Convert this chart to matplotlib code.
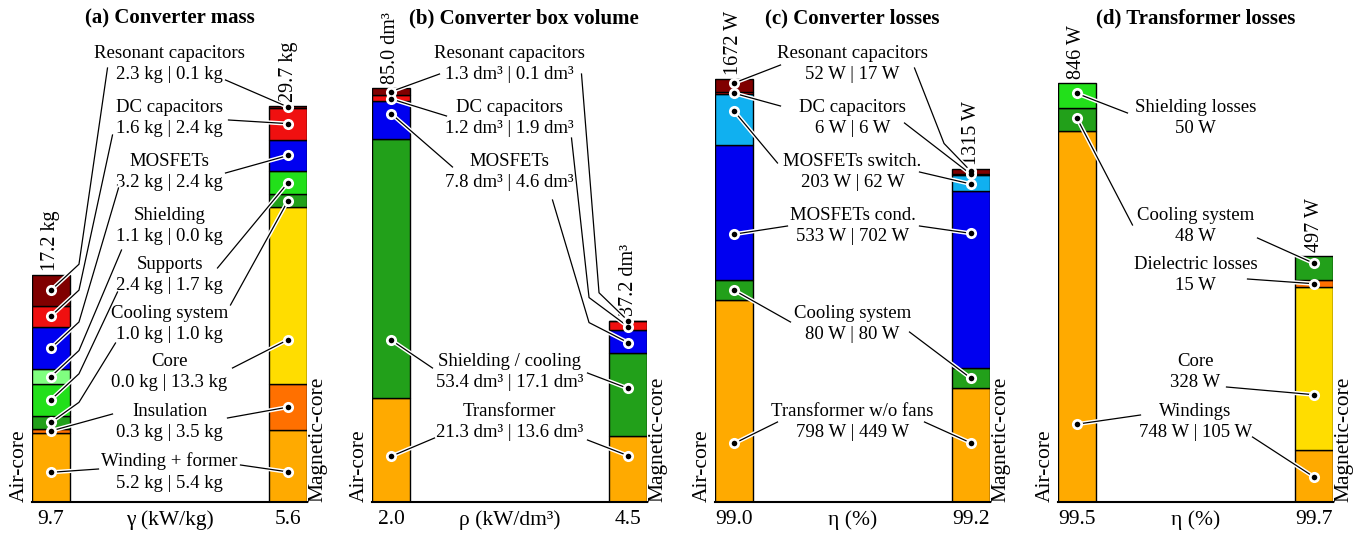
import matplotlib
matplotlib.use('Agg')
import matplotlib.pyplot as plt
import matplotlib.patheffects as pe
from matplotlib.lines import Line2D

plt.rcParams['font.family'] = ['Liberation Serif', 'DejaVu Serif']

# colours
ORANGE = '#ffaa00'
DORANGE = '#ff7000'
YELLOW = '#ffdd00'
DGREEN = '#22a01a'
GREEN = '#22e01a'
LGREEN = '#80ff80'
BLUE = '#0000f0'
LBLUE = '#10b0f0'
RED = '#f01010'
DRED = '#800000'

# (a) converter mass, stacked bottom -> top
mass_parts = ['Winding + former', 'Insulation', 'Core', 'Cooling system', 'Supports',
              'Shielding', 'MOSFETs', 'DC capacitors', 'Resonant capacitors']
mass_air = [5.2, 0.3, 0.0, 1.0, 2.4, 1.1, 3.2, 1.6, 2.3]
mass_mag = [5.4, 3.5, 13.3, 1.0, 1.7, 0.0, 2.4, 2.4, 0.1]
mass_totals = ['17.2 kg', '29.7 kg']
mass_gamma = ['9.7', '5.6']

# (b) converter box volume
vol_parts = ['Transformer', 'Shielding / cooling', 'MOSFETs', 'DC capacitors', 'Resonant capacitors']
vol_air = [21.3, 53.4, 7.8, 1.2, 1.3]
vol_mag = [13.6, 17.1, 4.6, 1.9, 0.1]
vol_totals = ['85.0 dm³', '37.2 dm³']
vol_rho = ['2.0', '4.5']

# (c) converter losses
closs_parts = ['Transformer w/o fans', 'Cooling system', 'MOSFETs cond.', 'MOSFETs switch.',
               'DC capacitors', 'Resonant capacitors']
closs_air = [798, 80, 533, 203, 6, 52]
closs_mag = [449, 80, 702, 62, 6, 17]
closs_totals = ['1672 W', '1315 W']
closs_eta = ['99.0', '99.2']

# (d) transformer losses
tloss_parts = ['Windings', 'Core', 'Dielectric losses', 'Cooling system', 'Shielding losses']
tloss_air = [748, 0, 0, 48, 50]
tloss_mag = [105, 328, 15, 48, 0]
tloss_totals = ['846 W', '497 W']
tloss_eta = ['99.5', '99.7']

# layout (pixels)
W, H = 1369, 535
AX_BOT, AX_TOP, AX_W = 502, 40, 275
BAR_W = 0.16
SLOT_PX = [64, 118, 172, 226, 275, 324, 372, 422, 472]

fig = plt.figure(figsize=(W / 100, H / 100), dpi=100)
halo = [pe.withStroke(linewidth=3, foreground='white')]


def draw_panel(left_px, ytop, title, parts, air, mag, totals, eff, xlabel, colors,
               values, slots, lspec, rspec, title_dx=0):
    ax = fig.add_axes([left_px / W, (H - AX_BOT) / H, AX_W / W, (AX_BOT - AX_TOP) / H])
    ax.set_xlim(-BAR_W / 2, 1 + BAR_W / 2)
    ax.set_ylim(0, ytop)
    ax.set_xticks([])
    ax.set_yticks([])
    for s in ['left', 'right', 'top']:
        ax.spines[s].set_visible(False)
    ax.spines['bottom'].set_linewidth(1.5)

    for i, vals in enumerate([air, mag]):
        bottom = 0
        for v, c in zip(vals, colors):
            if v > 0:
                ax.bar(i, v, BAR_W, bottom=bottom, color=c, edgecolor='black', linewidth=1)
            bottom += v
        ax.annotate(totals[i], xy=(i, bottom), xytext=(0, 3), textcoords='offset points',
                    rotation=90, ha='center', va='bottom', fontsize=14.5)
        ax.annotate(eff[i], xy=(i, 0), xytext=(0, -6), textcoords='offset points',
                    ha='center', va='top', fontsize=15.5)
    ax.annotate(xlabel, xy=(0.5, 0), xycoords='axes fraction', xytext=(0, -6),
                textcoords='offset points', ha='center', va='top', fontsize=15.5)
    ax.annotate('Air-core', xy=(-BAR_W / 2, 0), xytext=(-2, 0), textcoords='offset points',
                rotation=90, ha='right', va='bottom', fontsize=15.5)
    ax.annotate('Magnetic-core', xy=(1 + BAR_W / 2, 0), xytext=(1, 0), textcoords='offset points',
                rotation=90, ha='left', va='bottom', fontsize=15.5)
    ax.text(0.5 + title_dx / AX_W, (AX_BOT - 18) / (AX_BOT - AX_TOP), title,
            transform=ax.transAxes, ha='center', va='center', fontsize=15, fontweight='bold')

    inv = fig.transFigure.inverted()
    for j, name in enumerate(parts):
        yf = (AX_BOT - SLOT_PX[slots[j]]) / (AX_BOT - AX_TOP)
        ax.text(0.5, yf, name + '\n' + values[j], transform=ax.transAxes,
                ha='center', va='center', fontsize=13.5, linespacing=1.38)
        cx, cy = ax.transAxes.transform((0.5, yf))
        for i, (vals, spec) in enumerate([(air, lspec[j]), (mag, rspec[j])]):
            if spec is None or vals[j] == 0:
                continue
            y0 = sum(vals[:j])
            mx, my = ax.transData.transform((i, y0 + spec[2] * vals[j]))
            pts = [(cx + spec[0], cy - spec[1])]
            if len(spec) > 3:
                pts.append((mx + spec[3], my - spec[4]))
            pts.append((mx, my))
            fp = inv.transform(pts)
            fig.add_artist(Line2D(fp[:, 0], fp[:, 1], transform=fig.transFigure, color='black',
                                  linewidth=0.9, path_effects=halo, zorder=5))
            fm = inv.transform([(mx, my)])
            fig.add_artist(Line2D(fm[:, 0], fm[:, 1], transform=fig.transFigure, marker='o',
                                  markersize=8, color='white', markeredgewidth=0,
                                  linestyle='none', zorder=6))
            fig.add_artist(Line2D(fm[:, 0], fm[:, 1], transform=fig.transFigure, marker='o',
                                  markersize=4, color='black', markeredgewidth=0,
                                  linestyle='none', zorder=7))


# (a)
draw_panel(32, 34.8, '(a) Converter mass', mass_parts, mass_air, mass_mag, mass_totals,
           mass_gamma, 'γ (kW/kg)',
           [ORANGE, DORANGE, YELLOW, DGREEN, GREEN, LGREEN, BLUE, RED, DRED],
           [f'{a:.1f} kg | {m:.1f} kg' for a, m in zip(mass_air, mass_mag)],
           [8, 7, 6, 5, 4, 3, 2, 1, 0],
           [(-71, -3, 0.43), (-57, -8, 0.5), None, (-54, 19, 0.5, 28, -20),
            (-52, 17, 0.5, 28, -26), (-48, 24, 0.5, 28, -26), (-51, 16, 0.5, 28, -26),
            (-57, 17, 0.5, 28, -26), (-62, 4, 0.5, 28, -26)],
           [(71, -7, 0.42), (58, -4, 0.5), (63, -4, 0.25), (61, -19, 0.5), (48, -7, 0.5),
            None, (56, 1, 0.5), (59, 2, 0.5), (56, 16, 0.5)])

# (b)
draw_panel(372, 94.96, '(b) Converter box volume', vol_parts, vol_air, vol_mag, vol_totals,
           vol_rho, 'ρ (kW/dm³)', [ORANGE, DGREEN, BLUE, RED, DRED],
           [f'{a:.1f} dm³ | {m:.1f} dm³' for a, m in zip(vol_air, vol_mag)],
           [7, 6, 2, 1, 0],
           [(-75, 16, 0.44), (-77, -4, 0.225), (-57, -5, 0.66), (-63, -2, 0.3), (-70, 10, 0.5)],
           [(78, 18, 0.70), (78, 1, 0.57), (43, 28, 0.45, -39, -20), (62, 20, 0.4, -39, -29),
            (72, 10, 0.5, -29, -28)], title_dx=14)

# (c)
draw_panel(715, 1827.5, '(c) Converter losses', closs_parts, closs_air, closs_mag, closs_totals,
           closs_eta, 'η (%)', [ORANGE, DGREEN, BLUE, LBLUE, RED, DRED],
           [f'{a} W | {m} W' for a, m in zip(closs_air, closs_mag)],
           [7, 5, 3, 2, 1, 0],
           [(-75, 0, 0.29), (-62, -2, 0.5), (-65, 0, 0.34), (-75, -9, 0.67), (-72, -12, 0.5),
            (-72, 1, 0.72)],
           [(72, 0, 0.52), (57, 8, 0.5), (67, 0, 0.76), (67, 0, 0.43), (52, 5, 0.5),
            (62, 4, 0.5, -27, -28)])


# (d) shows a single value when one is zero or both are equal
def tloss_text(a, m):
    if a == m or m == 0:
        return f'{a} W'
    if a == 0:
        return f'{m} W'
    return f'{a} W | {m} W'


draw_panel(1058, 932.4, '(d) Transformer losses', tloss_parts, tloss_air, tloss_mag, tloss_totals,
           tloss_eta, 'η (%)', [ORANGE, YELLOW, DORANGE, DGREEN, GREEN],
           [tloss_text(a, m) for a, m in zip(tloss_air, tloss_mag)],
           [7, 6, 4, 3, 1],
           [(-55, -7, 0.21), None, None, (-63, -1, 0.55), (-68, -5, 0.57)],
           [(57, 15, 0.48), (31, 15, 0.34), (52, 4, 0.5), (62, 12, 0.7), None])

fig.savefig('out.png', dpi=100)
